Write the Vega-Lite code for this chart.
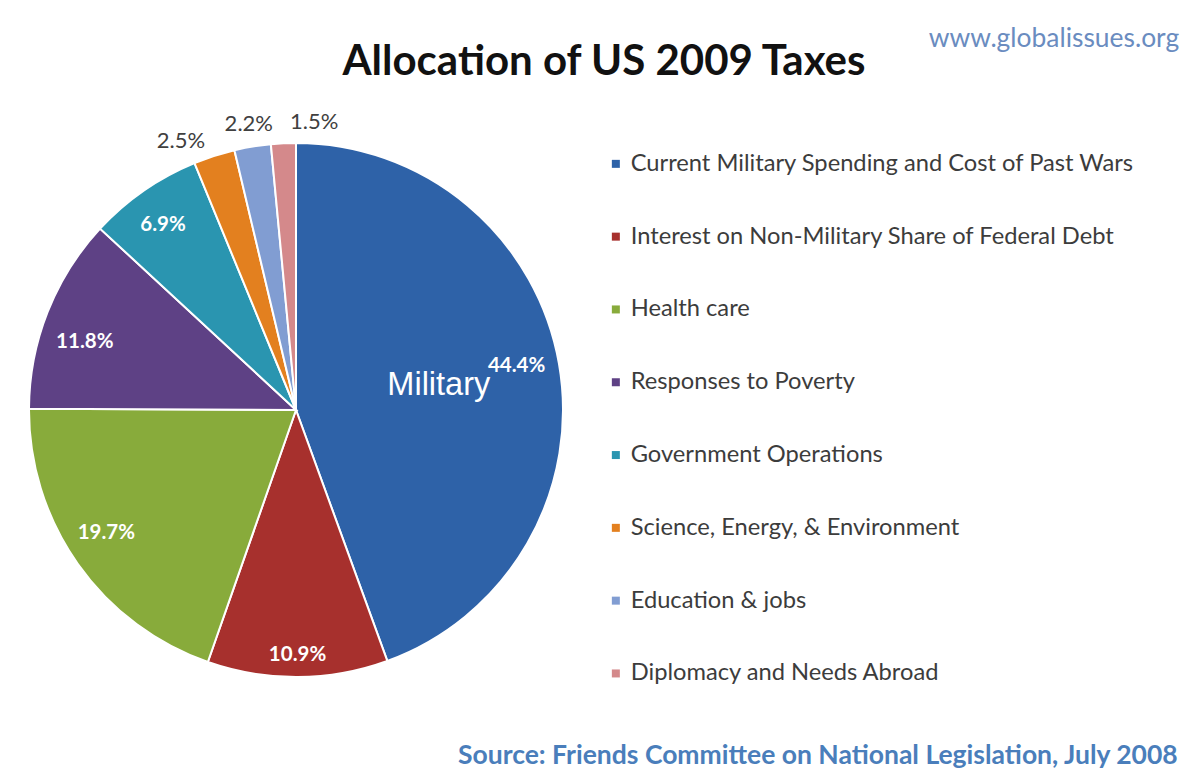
{
  "$schema": "https://vega.github.io/schema/vega-lite/v6.json",
  "background": "white",
  "padding": {"left": 14, "top": 26, "right": 6, "bottom": 4},
  "config": {"view": {"stroke": null}, "concat": {"spacing": 0}},
  "title": {"text": "www.globalissues.org", "anchor": "end", "frame": "bounds", "orient": "top", "dx": 0, "font": "Lato", "fontSize": 26.4, "fontWeight": "normal", "color": "#6A8CC0", "offset": -12},
  "resolve": {"scale": {"color": "independent"}, "legend": {"color": "independent"}},
  "vconcat": [
    {
      "title": {"text": "Source: Friends Committee on National Legislation, July 2008", "orient": "bottom", "anchor": "start", "frame": "group", "dx": 430, "offset": 41, "font": "Lato", "fontSize": 26.5, "fontWeight": "bold", "color": "#4A7EBB"},
      "resolve": {"scale": {"color": "independent"}, "legend": {"color": "independent"}},
      "vconcat": [
        {
          "title": {"text": "Allocation of US 2009 Taxes", "anchor": "middle", "frame": "group", "dx": 308, "offset": 27, "font": "Lato", "fontSize": 42, "fontWeight": "bold", "color": "#111111"},
          "width": 536,
          "height": 536,
          "data": {"values": [
            {"category": "Current Military Spending and Cost of Past Wars", "share": 0.444, "rank": 1},
            {"category": "Interest on Non-Military Share of Federal Debt", "share": 0.109, "rank": 2},
            {"category": "Health care", "share": 0.197, "rank": 3},
            {"category": "Responses to Poverty", "share": 0.118, "rank": 4},
            {"category": "Government Operations", "share": 0.069, "rank": 5},
            {"category": "Science, Energy, & Environment", "share": 0.025, "rank": 6},
            {"category": "Education & jobs", "share": 0.022, "rank": 7},
            {"category": "Diplomacy and Needs Abroad", "share": 0.015, "rank": 8}
          ]},
          "encoding": {
            "theta": {"field": "share", "type": "quantitative", "stack": true},
            "order": {"field": "rank", "type": "quantitative"}
          },
          "layer": [
            {
              "mark": {"type": "arc", "outerRadius": 267, "stroke": "white", "strokeWidth": 2},
              "encoding": {
                "color": {
                  "field": "category",
                  "type": "nominal",
                  "scale": {
                    "domain": ["Current Military Spending and Cost of Past Wars", "Interest on Non-Military Share of Federal Debt", "Health care", "Responses to Poverty", "Government Operations", "Science, Energy, & Environment", "Education & jobs", "Diplomacy and Needs Abroad"],
                    "range": ["#2E62A8", "#A7302D", "#88AB3B", "#5E4185", "#2A95B0", "#E3801F", "#819DD2", "#D4898B"]
                  },
                  "legend": {
                    "orient": "none", "legendX": 576, "legendY": 10, "title": null,
                    "symbolType": "square", "symbolSize": 64, "symbolStrokeWidth": 0,
                    "labelFont": "Lato", "labelFontSize": 23.7, "labelColor": "#3C3C3C",
                    "rowPadding": 47.8, "labelOffset": 3, "padding": 0, "labelLimit": 0
                  }
                }
              }
            },
            {
              "mark": {"type": "text", "radius": 225, "thetaOffset": -0.023, "font": "Lato", "fontWeight": "bold", "fill": "white", "align": "center", "baseline": "middle"},
              "encoding": {
                "text": {"condition": {"test": "datum.rank == 1", "field": "share", "type": "quantitative", "format": ".1%"}, "value": ""},
                "size": {"condition": {"test": "datum.rank == 1", "value": 20.5}, "value": 0}
              }
            },
            {
              "mark": {"type": "text", "radius": 245, "font": "Lato", "fontWeight": "bold", "fill": "white", "align": "center", "baseline": "middle"},
              "encoding": {
                "text": {"condition": {"test": "datum.rank == 2", "field": "share", "type": "quantitative", "format": ".1%"}, "value": ""},
                "size": {"condition": {"test": "datum.rank == 2", "value": 20.5}, "value": 0}
              }
            },
            {
              "mark": {"type": "text", "radius": 226, "thetaOffset": 0.04, "font": "Lato", "fontWeight": "bold", "fill": "white", "align": "center", "baseline": "middle"},
              "encoding": {
                "text": {"condition": {"test": "datum.rank == 3", "field": "share", "type": "quantitative", "format": ".1%"}, "value": ""},
                "size": {"condition": {"test": "datum.rank == 3", "value": 20.5}, "value": 0}
              }
            },
            {
              "mark": {"type": "text", "radius": 222, "thetaOffset": -0.063, "font": "Lato", "fontWeight": "bold", "fill": "white", "align": "center", "baseline": "middle"},
              "encoding": {
                "text": {"condition": {"test": "datum.rank == 4", "field": "share", "type": "quantitative", "format": ".1%"}, "value": ""},
                "size": {"condition": {"test": "datum.rank == 4", "value": 20.5}, "value": 0}
              }
            },
            {
              "mark": {"type": "text", "radius": 228, "thetaOffset": -0.016, "font": "Lato", "fontWeight": "bold", "fill": "white", "align": "center", "baseline": "middle"},
              "encoding": {
                "text": {"condition": {"test": "datum.rank == 5", "field": "share", "type": "quantitative", "format": ".1%"}, "value": ""},
                "size": {"condition": {"test": "datum.rank == 5", "value": 20.5}, "value": 0}
              }
            },
            {
              "mark": {"type": "text", "radius": 293, "thetaOffset": -0.0925, "font": "Lato", "fill": "#404040", "align": "center", "baseline": "middle"},
              "encoding": {
                "text": {"condition": {"test": "datum.rank == 6", "field": "share", "type": "quantitative", "format": ".1%"}, "value": ""},
                "size": {"condition": {"test": "datum.rank == 6", "value": 22}, "value": 0}
              }
            },
            {
              "mark": {"type": "text", "radius": 290, "font": "Lato", "fill": "#404040", "align": "center", "baseline": "middle"},
              "encoding": {
                "text": {"condition": {"test": "datum.rank == 7", "field": "share", "type": "quantitative", "format": ".1%"}, "value": ""},
                "size": {"condition": {"test": "datum.rank == 7", "value": 22}, "value": 0}
              }
            },
            {
              "mark": {"type": "text", "radius": 289, "thetaOffset": 0.11, "font": "Lato", "fill": "#404040", "align": "center", "baseline": "middle"},
              "encoding": {
                "text": {"condition": {"test": "datum.rank == 8", "field": "share", "type": "quantitative", "format": ".1%"}, "value": ""},
                "size": {"condition": {"test": "datum.rank == 8", "value": 22}, "value": 0}
              }
            },
            {
              "mark": {"type": "text", "radius": 145, "font": "Liberation Sans", "fill": "white", "align": "center", "baseline": "middle"},
              "encoding": {
                "text": {"condition": {"test": "datum.rank == 1", "value": "Military"}, "value": ""},
                "size": {"condition": {"test": "datum.rank == 1", "value": 32.5}, "value": 0}
              }
            }
          ]
        }
      ]
    }
  ]
}
